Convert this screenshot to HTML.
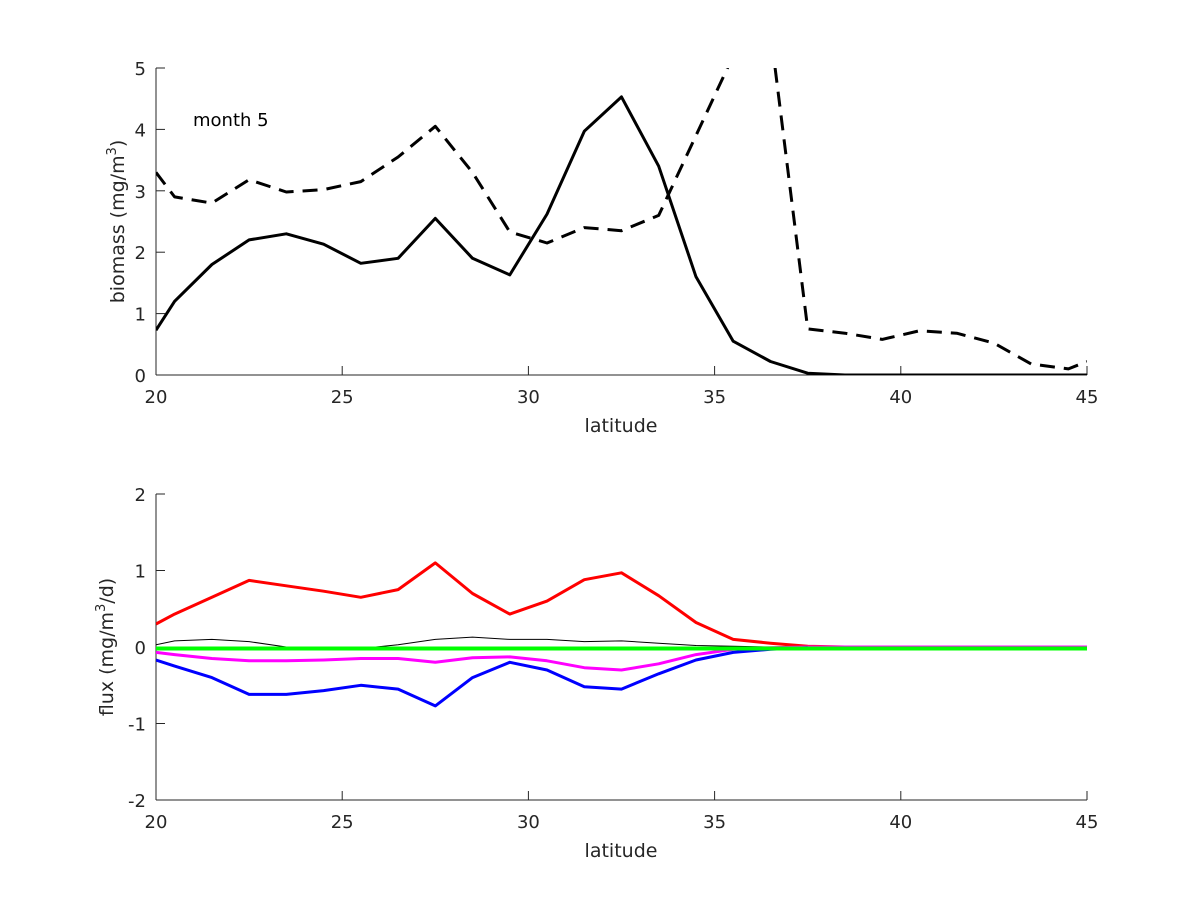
<!DOCTYPE html>
<html><head><meta charset="utf-8"><style>
body{margin:0;background:#fff;}
svg{display:block;font-family:"DejaVu Sans","Liberation Sans",sans-serif;}
</style></head><body>
<svg id="s" width="1200" height="900" xmlns="http://www.w3.org/2000/svg"></svg>
<script>
const s=document.getElementById('s');
const xs=[20,20.5];for(let v=21.5;v<45;v++)xs.push(v);xs.push(45);
const X=v=>156+(v-20)*37.24;
const Yt=v=>375-v*61.4;
const Yb=v=>647-v*76.5;
let h='';
function line(data,Y,st,clipId){let p=data.map((d,i)=>X(xs[i]).toFixed(1)+','+Y(d).toFixed(1)).join(' ');
h+=`<polyline points="${p}" fill="none" ${st} stroke-linejoin="round" ${clipId?`clip-path="url(#${clipId})"`:''}/>`;}
h+='<defs><clipPath id="ct"><rect x="156" y="68" width="931" height="307"/></clipPath><clipPath id="cb"><rect x="156" y="494" width="931" height="306"/></clipPath></defs>';
function axes(Y,ticks,y0,y1,ylabel,lx){
 h+=`<line x1="156" y1="${y0}" x2="156" y2="${y1}" stroke="#262626"/><line x1="156" y1="${y1}" x2="1087" y2="${y1}" stroke="#262626"/>`;
 for(let v=20;v<=45;v+=5){h+=`<line x1="${X(v)}" y1="${y1}" x2="${X(v)}" y2="${y1-9}" stroke="#262626"/><text x="${X(v)}" y="${y1+28}" font-size="18" text-anchor="middle" fill="#262626">${v}</text>`;}
 for(const v of ticks){h+=`<line x1="156" y1="${Y(v)}" x2="165" y2="${Y(v)}" stroke="#262626"/><text x="146" y="${Y(v)+7}" font-size="18" text-anchor="end" fill="#262626">${v}</text>`;}
 h+=`<text x="621" y="${y1+57}" font-size="19" text-anchor="middle" fill="#262626">latitude</text>`;
 h+=`<text transform="translate(${lx},${(y0+y1)/2}) rotate(-90)" font-size="19" text-anchor="middle" fill="#262626">${ylabel}</text>`;
}
axes(Yt,[0,1,2,3,4,5],68,375,'biomass (mg/m<tspan font-size="13" dy="-8">3</tspan><tspan dy="8">)</tspan>',124);
axes(Yb,[-2,-1,0,1,2],494,800,'flux (mg/m<tspan font-size="13" dy="-8">3</tspan><tspan dy="8">/d)</tspan>',113);
h+='<text x="193" y="126" font-size="18" fill="#000">month 5</text>';
const solid=[0.73,1.2,1.8,2.2,2.3,2.13,1.82,1.9,2.55,1.9,1.63,2.62,3.97,4.53,3.4,1.6,0.55,0.22,0.03,0,0,0,0,0,0,0,0,0];
const dash=[3.3,2.9,2.8,3.18,2.98,3.02,3.15,3.55,4.05,3.3,2.33,2.15,2.4,2.35,2.6,3.9,5.2,5.6,0.75,0.68,0.58,0.72,0.68,0.52,0.18,0.1,0.22];
while(dash.length<xs.length)dash.push(0.22);
line(solid,Yt,'stroke="#000" stroke-width="3"','ct');
line(dash,Yt,'stroke="#000" stroke-width="3" stroke-dasharray="15,9"','ct');
const n=xs.length;
const pad=a=>{while(a.length<n)a.push(0);return a;};
const green=xs.map(()=>-0.02);
const blk=pad([0.03,0.08,0.1,0.07,0.0,-0.01,-0.02,0.03,0.1,0.13,0.1,0.1,0.07,0.08,0.05,0.02,0.01]);
const mag=pad([-0.07,-0.1,-0.15,-0.18,-0.18,-0.17,-0.15,-0.15,-0.2,-0.14,-0.13,-0.18,-0.27,-0.3,-0.22,-0.1,-0.03,-0.01]);
const blue=[-0.17,-0.25,-0.4,-0.62,-0.62,-0.57,-0.5,-0.55,-0.77,-0.4,-0.2,-0.3,-0.52,-0.55,-0.35,-0.17,-0.07,-0.03,-0.01];
const red=pad([0.3,0.43,0.65,0.87,0.8,0.73,0.65,0.75,1.1,0.7,0.43,0.6,0.88,0.97,0.67,0.32,0.1,0.05,0.01]);
line(red,Yb,'stroke="#f00" stroke-width="3"','cb');
line(blk,Yb,'stroke="#000" stroke-width="1"','cb');
line(mag,Yb,'stroke="#f0f" stroke-width="3"','cb');
line(blue,Yb,'stroke="#00f" stroke-width="3"','cb');
line(green,Yb,'stroke="#0f0" stroke-width="4"','cb');
s.innerHTML=h;
</script>
</body></html>
